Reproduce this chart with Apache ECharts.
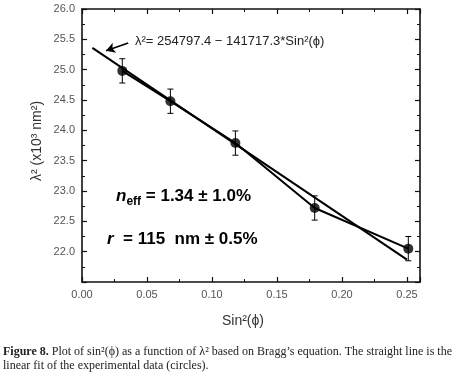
<!DOCTYPE html>
<html>
<head>
<meta charset="utf-8">
<script src="https://cdn.jsdelivr.net/npm/echarts@6/dist/echarts.min.js"></script>
<style>
  html, body { margin: 0; padding: 0; background: #fff; }
  #chart { width: 457px; height: 373px; }
</style>
</head>
<body>
<div id="chart"></div>
<script>
// measured points (sin^2(phi), lambda^2 in 10^3 nm^2)
let sinSq = [0.031, 0.068, 0.118, 0.179, 0.251];
let lambdaSq = [24.98, 24.48, 23.79, 22.72, 22.05];
let errBar = [0.2, 0.2, 0.2, 0.2, 0.2];

// ends of the linear fit, as drawn
let fitX = [0.008, 0.25];
let fitY = [25.36, 21.87];

// arrow pointing from the equation to the fit line
let arrowFrom = [0.0355, 25.44];
let arrowTo = [0.0185, 25.31];

let xTicks = { min: 0, max: 0.26, interval: 0.05 };
let yTicks = { min: 21.5, max: 26, interval: 0.5 };

let myChart = echarts.init(document.getElementById('chart'));

let points = [];
for (let i = 0; i < sinSq.length; i++)
{
    points.push([sinSq[i], lambdaSq[i], errBar[i]]);
}
let fit = [];
for (let i = 0; i < fitX.length; i++)
{
    fit.push([fitX[i], fitY[i]]);
}

function frameAxis(pos, ticks, labels)
{
    return {
        type: 'value',
        position: pos,
        min: ticks.min,
        max: ticks.max,
        interval: ticks.interval,
        splitLine: { show: false },
        axisLine: { show: true, onZero: false, lineStyle: { color: '#111', width: 1.6 } },
        axisTick: { show: true, inside: true, length: 5, lineStyle: { color: '#111', width: 1.2 } },
        minorTick: { show: true, splitNumber: 2, length: 3, lineStyle: { color: '#111', width: 1 } },
        axisLabel: {
            show: labels,
            color: '#555',
            fontFamily: 'Liberation Sans',
            fontSize: 11,
            margin: 7,
            showMaxLabel: pos === 'left',
            showMinLabel: pos === 'bottom',
            formatter: v => pos === 'bottom' ? v.toFixed(2) : v.toFixed(1)
        }
    };
}

let option = {
    animation: false,
    backgroundColor: '#fff',
    grid: { left: 82, top: 9, width: 338, height: 273 },
    xAxis: [frameAxis('bottom', xTicks, true), frameAxis('top', xTicks, false)],
    yAxis: [frameAxis('left', yTicks, true), frameAxis('right', yTicks, false)],
    series: [
        {
            // connecting line through the data
            type: 'line',
            data: points.map(p => [p[0], p[1]]),
            symbol: 'none',
            lineStyle: { color: '#000', width: 2 }
        },
        {
            // linear fit
            type: 'line',
            data: fit,
            symbol: 'none',
            lineStyle: { color: '#000', width: 2 },
            markLine: {
                silent: true,
                symbol: ['none', 'arrow'],
                symbolSize: [8, 9],
                lineStyle: { color: '#000', width: 1.6, type: 'solid' },
                label: { show: false },
                data: [[{ coord: arrowFrom }, { coord: arrowTo }]]
            }
        },
        {
            type: 'custom',
            data: points,
            renderItem: function (params, api) {
                let x = api.value(0), y = api.value(1), e = api.value(2);
                let hi = api.coord([x, y + e]);
                let lo = api.coord([x, y - e]);
                let w = 3;
                let st = { stroke: '#000', lineWidth: 1 };
                return {
                    type: 'group',
                    children: [
                        { type: 'line', shape: { x1: hi[0], y1: hi[1], x2: lo[0], y2: lo[1] }, style: st },
                        { type: 'line', shape: { x1: hi[0] - w, y1: hi[1], x2: hi[0] + w, y2: hi[1] }, style: st },
                        { type: 'line', shape: { x1: lo[0] - w, y1: lo[1], x2: lo[0] + w, y2: lo[1] }, style: st }
                    ]
                };
            },
            z: 3
        },
        {
            type: 'scatter',
            data: points.map(p => [p[0], p[1]]),
            symbol: 'circle',
            symbolSize: 10,
            itemStyle: { color: '#000' },
            z: 4
        }
    ],
    graphic: [
        {
            type: 'text', left: 135, top: 35,
            style: {
                text: 'λ²= 254797.4 − 141717.3*Sin²(ϕ)',
                font: '13px "Liberation Sans"', fill: '#222'
            }
        },
        {
            type: 'text', left: 116, top: 188,
            style: {
                text: '{i|n}{s|eff}{b| = 1.34 ± 1.0%}',
                rich: {
                    i: { font: 'italic bold 17px "Liberation Sans"', fill: '#000' },
                    s: { font: 'bold 12px "Liberation Sans"', fill: '#000', padding: [10, 0, 0, 0] },
                    b: { font: 'bold 17px "Liberation Sans"', fill: '#000' }
                }
            }
        },
        {
            type: 'text', left: 107, top: 231,
            style: {
                text: '{i|r}{b|  = 115  nm ± 0.5%}',
                rich: {
                    i: { font: 'italic bold 17px "Liberation Sans"', fill: '#000' },
                    b: { font: 'bold 17px "Liberation Sans"', fill: '#000' }
                }
            }
        },
        {
            type: 'text', x: 37, y: 141, rotation: Math.PI / 2,
            style: {
                text: 'λ² (x10³ nm²)', font: '14px "Liberation Sans"', fill: '#333',
                align: 'center', verticalAlign: 'middle'
            }
        },
        {
            type: 'text', x: 243, y: 321,
            style: {
                text: 'Sin²(ϕ)', font: '14px "Liberation Sans"', fill: '#333',
                align: 'center', verticalAlign: 'middle'
            }
        },
        {
            type: 'text', left: 3, top: 345,
            style: {
                text: '{b|Figure 8.} Plot of sin²(ϕ) as a function of λ² based on Bragg’s equation. The straight line is the\nlinear fit of the experimental data (circles).',
                font: '12px "Liberation Serif"', fill: '#222', lineHeight: 14,
                rich: {
                    b: { font: 'bold 12px "Liberation Serif"', fill: '#222' }
                }
            }
        }
    ]
};

myChart.setOption(option);
</script>
</body>
</html>
